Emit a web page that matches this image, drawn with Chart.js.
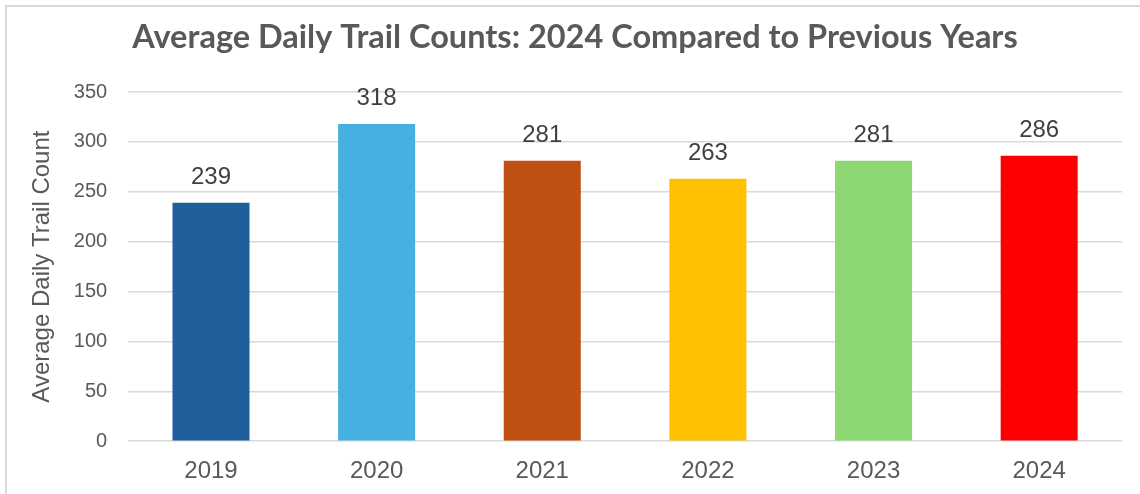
<!DOCTYPE html>
<html>
<head>
<meta charset="utf-8">
<script src="https://cdn.jsdelivr.net/npm/chart.js@4"></script>
<style>
  html, body { margin: 0; padding: 0; background: #fff; overflow: hidden; }
  #wrap { position: absolute; left: 0; top: 0; width: 1140px; height: 494px; }
  #frame { position: absolute; left: 5px; top: 5px; width: 1200px; height: 600px;
           border-left: 2px solid #d9d9d9; border-top: 2px solid #d9d9d9; pointer-events: none; }
</style>
</head>
<body>
<div id="wrap"><canvas id="chart" width="1140" height="494"></canvas></div>
<div id="frame"></div>
<script>
// chart data
const years = ['2019', '2020', '2021', '2022', '2023', '2024'];
const dailyCounts = [239, 318, 281, 263, 281, 286];
const barColors = ['#1f5f9c', '#45b0e1', '#be5113', '#ffc000', '#8ed873', '#ff0000'];

const textColor = '#595959';
const bodyFont = '"Liberation Sans", Arial, sans-serif';

// simple value labels above each bar
const valueLabels = {
  id: 'valueLabels',
  afterDatasetsDraw(chart) {
    const ctx = chart.ctx;
    const meta = chart.getDatasetMeta(0);
    ctx.save();
    ctx.font = '24px ' + bodyFont;
    ctx.fillStyle = '#404040';
    ctx.textAlign = 'center';
    ctx.textBaseline = 'alphabetic';
    meta.data.forEach((bar, i) => {
      ctx.fillText(dailyCounts[i], bar.x, bar.y - 19);
    });
    ctx.restore();
  }
};

new Chart(document.getElementById('chart'), {
  type: 'bar',
  data: {
    labels: years,
    datasets: [{
      data: dailyCounts,
      backgroundColor: barColors,
      borderWidth: 0,
      categoryPercentage: 1,
      barPercentage: 0.465
    }]
  },
  options: {
    responsive: false,
    animation: false,
    layout: { padding: { left: 28, right: 18, top: 0, bottom: -8 } },
    plugins: {
      legend: { display: false },
      tooltip: { enabled: false },
      title: {
        display: true,
        text: 'Average Daily Trail Counts: 2024 Compared to Previous Years',
        color: textColor,
        font: { family: 'Lato, "Open Sans", sans-serif', size: 32.5, weight: 'bold' },
        padding: { top: 18, bottom: 35 }
      }
    },
    scales: {
      x: {
        grid: { display: false, drawTicks: false },
        border: { display: false },
        ticks: { color: textColor, padding: 16, font: { family: bodyFont, size: 24 } }
      },
      y: {
        min: 0,
        max: 350,
        ticks: { stepSize: 50, color: textColor, padding: 21, font: { family: bodyFont, size: 20 } },
        grid: { color: '#d9d9d9', lineWidth: 1.5, drawTicks: false },
        border: { display: false },
        title: {
          display: true,
          text: 'Average Daily Trail Count',
          color: textColor,
          padding: { top: 0, bottom: -4 },
          font: { family: bodyFont, size: 24 }
        }
      }
    }
  },
  plugins: [valueLabels]
});
</script>
</body>
</html>
